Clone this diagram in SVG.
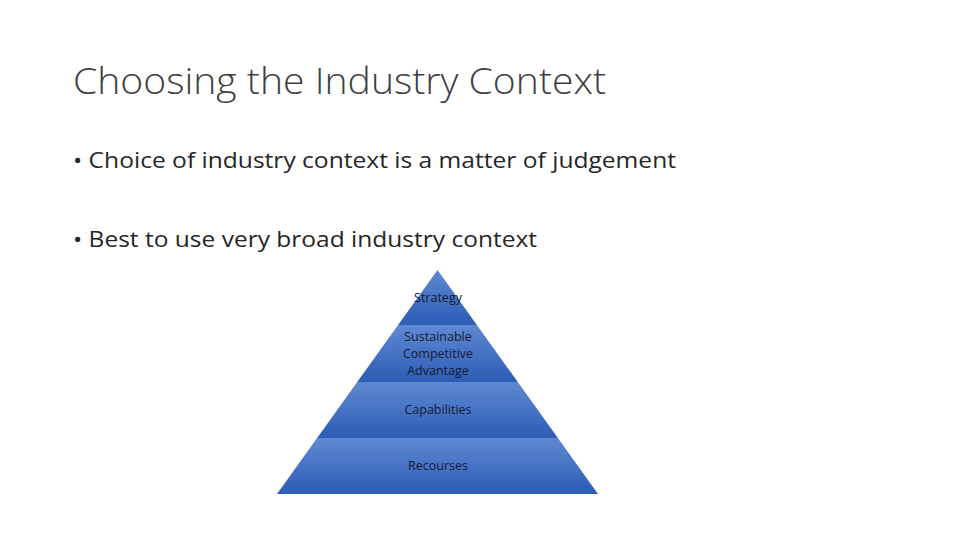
<svg xmlns="http://www.w3.org/2000/svg" width="960" height="540" viewBox="0 0 960 540">
<defs>
<linearGradient id="g" x1="0" y1="0" x2="0" y2="1">
<stop offset="0" stop-color="#5f89d2"/><stop offset="1" stop-color="#2d5cb6"/>
</linearGradient>
<style>
.t{font-family:"Open Sans","Liberation Sans",sans-serif;fill:#404040}
.s{fill:#262626}
.p{font-family:"Open Sans","Liberation Sans",sans-serif;font-size:12.5px;fill:#121c33;text-anchor:middle}
.b{fill:url(#g)}
</style>
</defs>
<rect width="960" height="540" fill="#fff"/>
<text class="t" x="73" y="94" font-size="37" font-weight="300" textLength="533" lengthAdjust="spacingAndGlyphs">Choosing the Industry Context</text>
<text class="t s" x="73" y="168" font-size="22" textLength="603" lengthAdjust="spacingAndGlyphs">• Choice of industry context is a matter of judgement</text>
<text class="t s" x="73" y="247" font-size="22" textLength="464" lengthAdjust="spacingAndGlyphs">• Best to use very broad industry context</text>
<g id="strategy"><polygon class="b" points="437.5,270 476.9,325 398.1,325"/><text class="p" x="438" y="302">Strategy</text></g>
<g id="sca"><polygon class="b" points="398.1,325 476.9,325 517.8,382 357.2,382"/><text class="p" x="438" y="341">Sustainable</text><text class="p" x="438" y="358">Competitive</text><text class="p" x="438" y="375">Advantage</text></g>
<g id="capabilities"><polygon class="b" points="357.2,382 517.8,382 557.9,438 317.1,438"/><text class="p" x="438" y="414">Capabilities</text></g>
<g id="recourses"><polygon class="b" points="317.1,438 557.9,438 598,494 277,494"/><text class="p" x="438" y="470">Recourses</text></g>
<g id="connectors"/>
</svg>
